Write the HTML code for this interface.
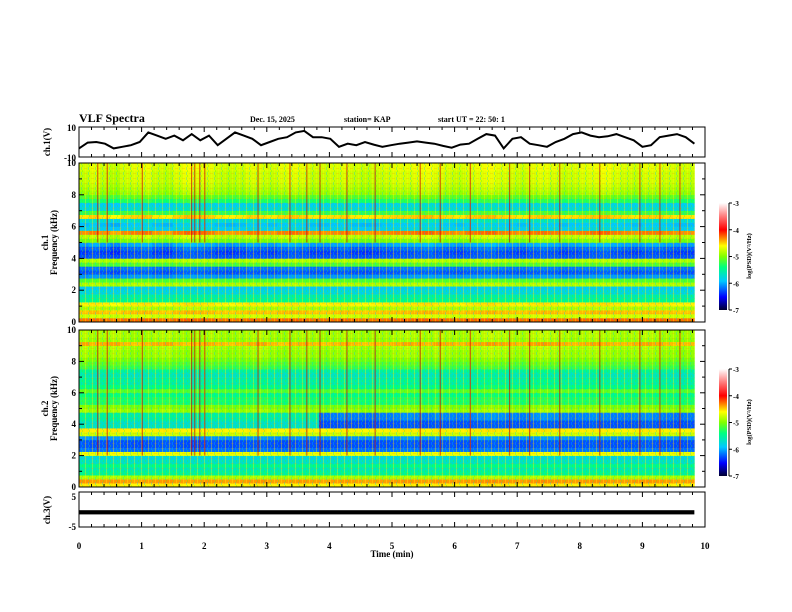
<!DOCTYPE html>
<html><head><meta charset="utf-8"><style>
body{margin:0;background:#fff}
svg{display:block;font-family:"Liberation Serif",serif}
</style></head><body>
<svg id="s" width="792" height="612" viewBox="0 0 792 612" xmlns="http://www.w3.org/2000/svg">
<defs><linearGradient id="cb" x1="0" y1="1" x2="0" y2="0">
<stop offset="0" stop-color="#000030"/><stop offset="0.12" stop-color="#0000ff"/><stop offset="0.27" stop-color="#00c8ff"/><stop offset="0.4" stop-color="#00ff80"/><stop offset="0.5" stop-color="#80ff00"/><stop offset="0.6" stop-color="#ffff00"/><stop offset="0.75" stop-color="#ff0000"/><stop offset="0.88" stop-color="#ff8080"/><stop offset="1" stop-color="#ffffff"/></linearGradient>
<pattern id="tex" width="7" height="5" patternUnits="userSpaceOnUse">
<rect x="1" y="0" width="1" height="5" fill="#ffff00" opacity="0.35"/>
<rect x="4" y="2" width="1" height="3" fill="#00c0ff" opacity="0.3"/>
<rect x="0" y="3" width="3" height="1" fill="#ff8000" opacity="0.2"/>
<rect x="5" y="0" width="1" height="2" fill="#40ff00" opacity="0.3"/>
</pattern></defs>
<text x="79" y="122" font-size="12" font-weight="bold">VLF Spectra</text>
<text x="250" y="122" font-size="8" font-weight="bold">Dec. 15, 2025</text>
<text x="344" y="122" font-size="8" font-weight="bold">station= KAP</text>
<text x="438" y="122" font-size="8" font-weight="bold">start  UT =   22: 50: 1</text>
<g id="g"></g>
</svg>
<script>
// ---- data ----
const ch1Wave=[-4.3,-0.4,0,-1.1,-4.3,-3.2,-2.1,0,6.4,4.3,2.1,4.3,1.1,5.3,1.1,4.3,-2.1,2.1,6.4,4.3,2.1,-2.1,0,2.1,3.2,6.4,7.4,3.2,3.2,2.1,-3.2,-1.1,-2.1,0,-1.7,-3.2,-2.1,-1.1,-0.4,0.4,-0.4,-1.1,-2.6,-3.8,-1.7,-1.1,2.1,5.3,4.3,-4.3,2.1,3.2,-1.1,-2.1,-3.2,0,2.1,5.3,6.4,4.3,3.2,3.8,5.3,3.2,1.1,-3.2,-2.1,3.2,4.3,5.3,3.2,-1.1];
const ch1Profile=[-4.3,-4.8,-4.5,-4.9,-4.6,-5.5,-5.6,-5.8,-5.9,-4.9,-5.2,-6.1,-6.3,-6.2,-5.2,-4.9,-6.3,-6.4,-6.3,-6.1,-5.1,-4.9,-4.4,-5.9,-6.0,-5.8,-4.6,-5.3,-5.8,-5.9,-5.4,-5.2,-5.0,-4.95,-4.9,-4.85,-4.85,-4.85,-4.8,-4.8];
const ch2Profile=[-4.6,-4.4,-4.9,-5.5,-5.6,-5.5,-5.7,-5.8,-4.7,-6.2,-6.3,-6.3,-6.1,-4.8,-4.6,-5.7,-5.7,-5.6,-5.6,-5.0,-5.1,-5.4,-5.4,-5.5,-5.2,-5.5,-5.6,-5.6,-5.7,-5.6,-5.3,-5.2,-5.1,-5.0,-5.0,-4.95,-4.5,-5.0,-4.95,-4.95];
const ch1Activity=[0.1,0.2,0.1,0,0.15,0.2,0.25,0.1,0.05,0.2,0.3,0.25,0.2,0.1,0.05,0.1,0.2,0.15,0.1,0.2,0.25,0.2,0.1,0.1,0.15,0.2,0.1,0.05,0.1,0.15,0.2,0.2,0.25,0.3,0.2,0.15,0.1,0.2,0.25,0.3,0.2,0.15,0.1,0.2,0.25,0.2,0.1,0.15,0.2,0.25,0.3,0.2,0.15,0.1,0.2,0.2,0.15,0.1,0.1];
const ch2Activity=[0.2,0.1,0.15,0.2,0.1,0.05,0.1,0.15,0.2,0.1,0.05,0.1,0.15,0.1,0.05,0.1,0.15,0.2,0.1,0.05,0.1,0.15,0.1,0.05,0.1,0.15,0.1,0.05,0.1,0.1,0.15,0.2,0.15,0.1,0.2,0.15,0.1,0.15,0.2,0.25,0.2,0.15,0.1,0.2,0.25,0.2,0.15,0.1,0.15,0.2,0.15,0.1,0.1,0.15,0.2,0.15,0.1,0.05,0.1];
const ch2QuietStart=3.75;
const spikeTimes=[0.30,0.45,1.01,1.80,1.85,1.93,2.01,2.86,3.37,3.64,3.85,4.28,4.73,5.45,5.77,6.25,6.88,7.2,7.68,8.32,8.96,9.28,9.6];
const ch3Level=[-0.2,-1.4];
const endTime=9.83;
const xTicks=[0,1,2,3,4,5,6,7,8,9,10];
const fTicks=[0,2,4,6,8,10];
const cbTicks=[-3,-4,-5,-6,-7];
// ---- axes ----
const X0=79,X1=705;
const xs=t=>X0+(X1-X0)*t/10;
const NS="http://www.w3.org/2000/svg",g=document.getElementById('g');
function mk(tag,at,parent){const e=document.createElementNS(NS,tag);for(const k in at)e.setAttribute(k,at[k]);(parent||g).appendChild(e);return e;}
const stops=[[-7,[0,0,48]],[-6.5,[0,0,255]],[-5.9,[0,200,255]],[-5.4,[0,255,128]],[-5,[128,255,0]],[-4.6,[255,255,0]],[-4,[255,0,0]],[-3.5,[255,128,128]],[-3,[255,255,255]]];
function cmap(v){v=Math.max(-7,Math.min(-3,v));for(let i=1;i<stops.length;i++){if(v<=stops[i][0]){const a=stops[i-1],b=stops[i],f=(v-a[0])/(b[0]-a[0]);return 'rgb('+a[1].map((c,j)=>Math.round(c+(b[1][j]-c)*f)).join(',')+')';}}return '#fff';}
function frame(top,bot,name){
  const r=mk('rect',{x:X0,y:top,width:X1-X0,height:bot-top,fill:'none',stroke:'#000','stroke-width':1});
  
  for(let i=0;i<=50;i++){const x=xs(i*0.2),L=(i%5==0)?5:3;
    const t1=mk('line',{x1:x,y1:top,x2:x,y2:top+L,stroke:'#000'});
    const t2=mk('line',{x1:x,y1:bot,x2:x,y2:bot-L,stroke:'#000'});}
}
function ylab(x,y,txt,name){const t=mk('text',{x:x,y:y,'font-size':9,'font-weight':'bold','text-anchor':'end'});t.textContent=txt;}
function rotlab(x,y,lines,name){const t=mk('text',{transform:`translate(${x},${y}) rotate(-90)`,'font-size':9,'font-weight':'bold','text-anchor':'middle'});lines.forEach((l,i)=>{const s=mk('tspan',{x:0,dy:i?9:0},t);s.textContent=l;});}
// ch1 waveform
const W1T=127,W1B=157,wy=v=>(W1T+W1B)/2-v*(W1B-W1T)/20;
let d='';ch1Wave.forEach((v,i)=>{d+=(i?'L':'M')+xs(i*endTime/(ch1Wave.length-1)).toFixed(1)+' '+wy(v).toFixed(1);});
const wp=mk('path',{d:d,fill:'none',stroke:'#000','stroke-width':2});
frame(W1T,W1B,'ch1-wave');ylab(76,131,'10','ch1-ytick');ylab(76,161,'-10','ch1-ytick');
rotlab(50,142,['ch.1(V)'],'ch1-y-title');
// spectrograms
function spec(top,bot,profile,act,ch,cbTop){
  const fy=f=>bot-(bot-top)*f/10,nT=act.length,dt=endTime/nT;
  for(let j=0;j<nT;j++)for(let i=0;i<profile.length;i++){
    let v=profile[i]+act[j]*(i>16?0.6:0.3);
    if(ch==2&&j*dt>=ch2QuietStart&&i>=15&&i<19)v-=0.6;
    const c=mk('rect',{x:xs(j*dt).toFixed(2),y:fy((i+1)*0.25).toFixed(2),width:(xs(dt)-X0+0.4).toFixed(2),height:((bot-top)/40+0.3).toFixed(2),fill:cmap(v)});
    }
  const tx=mk('rect',{x:X0,y:top,width:xs(endTime)-X0,height:bot-top,fill:'url(#tex)'});
  spikeTimes.forEach(t=>{const l=mk('line',{x1:xs(t),x2:xs(t),y1:fy(10),y2:fy(ch==1?5:2),stroke:'#d00000','stroke-width':0.9,opacity:0.8});});
  frame(top,bot,'ch'+ch+'-spec');
  fTicks.forEach(f=>{ylab(76,fy(f)+3,String(f),'ch'+ch+'-freq-tick');});
  for(let f=0;f<=10;f++){const y=fy(f),L=f%2?3:5;const a=mk('line',{x1:X0,x2:X0+L,y1:y,y2:y,stroke:'#000'});const b=mk('line',{x1:X1,x2:X1-L,y1:y,y2:y,stroke:'#000'});}
  rotlab(48,(top+bot)/2,['ch.'+ch,'Frequency (kHz)'],'ch'+ch+'-y-title');
  const cb=mk('rect',{x:719,y:cbTop,width:8,height:107,fill:'url(#cb)'});
  const ax=mk('line',{x1:729,x2:729,y1:cbTop,y2:cbTop+107,stroke:'#000'});
  cbTicks.forEach(v=>{const y=cbTop+107*(-3-v)/4;const tk=mk('line',{x1:729,x2:732,y1:y,y2:y,stroke:'#000'});const t=mk('text',{x:733,y:y+3,'font-size':7,'font-weight':'bold'});t.textContent=String(v);});
  const cl=mk('text',{transform:`translate(751,${cbTop+53}) rotate(-90)`,'font-size':6.5,'font-weight':'bold','text-anchor':'middle'});cl.textContent='log(PSD)(V²/Hz)';
}
spec(163,322,ch1Profile,ch1Activity,1,203);
spec(330,487,ch2Profile,ch2Activity,2,369);
// ch3
const C3T=492,C3B=527,cy=v=>(C3T+C3B)/2-v*(C3B-C3T)/10;
const bar=mk('rect',{x:X0,y:cy(ch3Level[0]),width:xs(endTime)-X0,height:cy(ch3Level[1])-cy(ch3Level[0]),fill:'#000'});
frame(C3T,C3B,'ch3');ylab(76,500,'5','ch3-ytick');ylab(76,530,'-5','ch3-ytick');
rotlab(50,510,['ch.3(V)'],'ch3-y-title');
xTicks.forEach(t=>{const e=mk('text',{x:xs(t),y:549,'font-size':9,'font-weight':'bold','text-anchor':'middle'});e.textContent=String(t);});
const xt=mk('text',{x:392,y:557,'font-size':9,'font-weight':'bold','text-anchor':'middle'});xt.textContent='Time  (min)';
</script>
</body></html>
